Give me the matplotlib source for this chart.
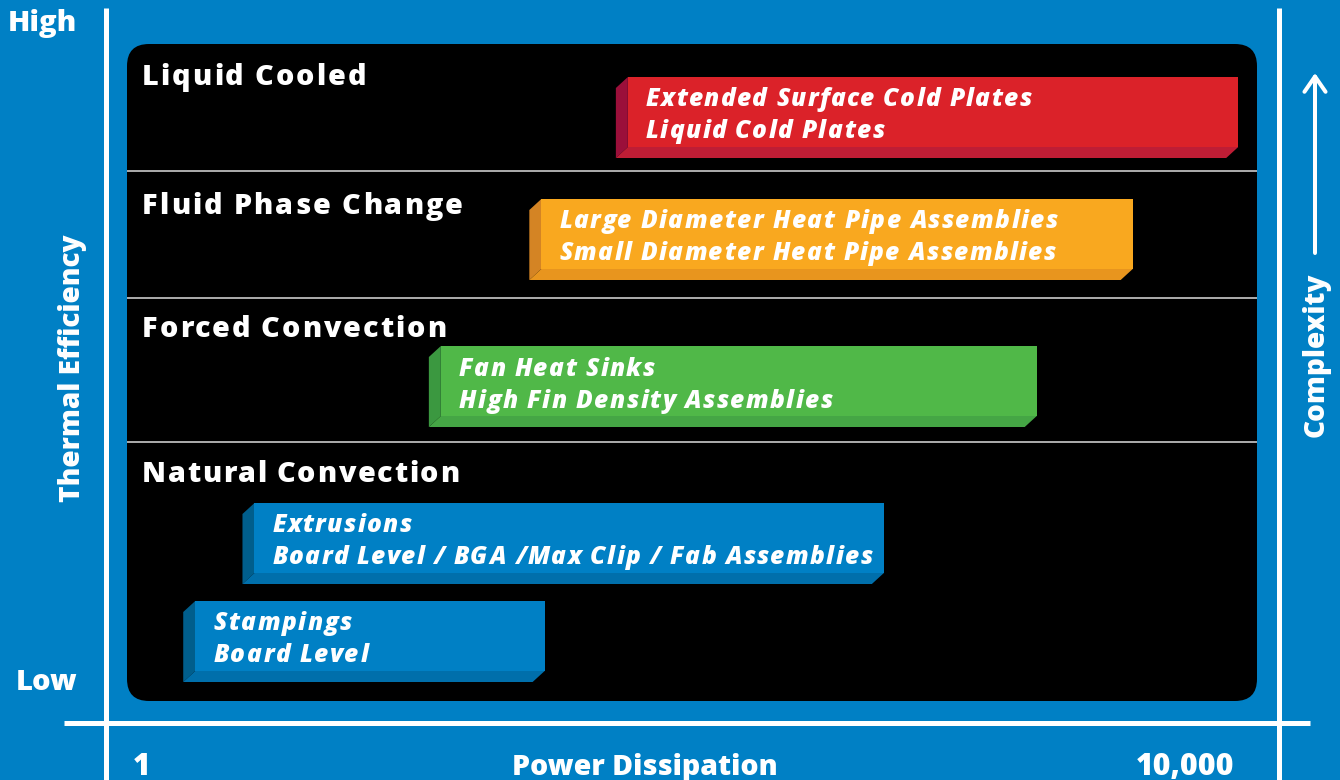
import matplotlib
matplotlib.use('Agg')
import matplotlib.pyplot as plt
from matplotlib.patches import Polygon, FancyBboxPatch, Rectangle, FancyArrowPatch
from matplotlib.lines import Line2D
from matplotlib.transforms import IdentityTransform
from matplotlib.font_manager import FontProperties

# ---------------- data ----------------
categories = ['Liquid Cooled', 'Fluid Phase Change', 'Forced Convection', 'Natural Convection']
tech_line1 = ['Extended Surface Cold Plates',
              'Large Diameter Heat Pipe Assemblies',
              'Fan Heat Sinks',
              'Extrusions',
              'Stampings']
tech_line2 = ['Liquid Cold Plates',
              'Small Diameter Heat Pipe Assemblies',
              'High Fin Density Assemblies',
              'Board Level / BGA /Max Clip / Fab Assemblies',
              'Board Level']
tech_category = ['Liquid Cooled', 'Fluid Phase Change', 'Forced Convection',
                 'Natural Convection', 'Natural Convection']
power_min_w = [73, 34, 14, 2.7, 1.6]
power_max_w = [16000, 6300, 2700, 700, 35]
x_tick_values = [1, 10000]
x_tick_labels = ['1', '10,000']
x_axis_title = 'Power Dissipation'
y_axis_title = 'Thermal Efficiency'
y_end_labels = ['Low', 'High']
right_axis_title = 'Complexity'

# ---------------- layout / style ----------------
W, H, DPI = 1340, 780, 100
FONT = 'Open Sans'
CAPR = 0.714
BG = '#0080C5'
PX_PER_DECADE = 260.75
X_ONE_PX = 142
BAR_TOP = [77, 199, 346, 503, 601]
BAR_H = 70
DEPTH_X, DEPTH_Y = 12, 11
CAT_BASELINE = [85, 214, 337, 482]
CAT_WIDTH = [224, 321, 304, 317]
DIVIDERS = [171, 298, 442]
LINE1_WIDTH = [386, 499, 196, 139, 139]
LINE2_WIDTH = [239, 497, 374, 600, 155]
CAT_COLORS = {
    'Liquid Cooled': ('#DB2229', '#9B0F3A', '#BE1D35'),
    'Fluid Phase Change': ('#F9A81F', '#D48424', '#E8951E'),
    'Forced Convection': ('#50B848', '#3B9840', '#45A645'),
    'Natural Convection': ('#0080C5', '#005E8C', '#006FAB'),
}

fig = plt.figure(figsize=(W / DPI, H / DPI), dpi=DPI, facecolor=BG)
ax = fig.add_axes([0, 0, 1, 1])
ax.set_xscale('log')
ax.set_xlim(10 ** (-X_ONE_PX / PX_PER_DECADE), 10 ** ((W - X_ONE_PX) / PX_PER_DECADE))
ax.set_ylim(H, 0)
ax.axis('off')
renderer = fig.canvas.get_renderer()
ID = IdentityTransform()


def fp(size_px, style='normal', weight=800):
    return FontProperties(family=FONT, weight=weight, style=style, size=size_px * 72 / DPI)


def tw(s, prop):
    w, h, d = renderer.get_text_width_height_descent(s, prop, ismath=False)
    return w


def fit_prop(s, target_w, cap_px, style='normal'):
    size = cap_px / CAPR
    w = tw(s, fp(size, style))
    if w > target_w:
        size *= target_w / w
    return fp(size, style)


def tracked_text(x_ink, y_base, s, prop, target_w, color='white', z=6):
    wXX = tw('XX', prop)
    advX = wXX - tw('X', prop)

    def adv(p):
        return tw('X' + p + 'X', prop) - wXX

    def lsb(c):
        return tw('X' + c, prop) - tw(c, prop) - advX

    nat = tw(s, prop)
    n = len(s)
    track = max((target_w - nat) / (n - 1), 0) if n > 1 else 0
    pen0 = x_ink - lsb(s[0])
    for i, c in enumerate(s):
        if c == ' ':
            continue
        xi = pen0 + adv(s[:i]) + lsb(c) + i * track
        fig.text(xi, H - y_base, c, fontproperties=prop, color=color,
                 ha='left', va='baseline', transform=ID, zorder=z)


def line_px(x0, y0, x1, y1, lw_px, color):
    fig.add_artist(Line2D([x0, x1], [H - y0, H - y1], lw=lw_px * 72 / DPI,
                          color=color, transform=ID, solid_capstyle='butt'))


# black panel
ax.add_patch(FancyBboxPatch((127, H - 701), 1130, 657,
                            boxstyle='round,pad=0,rounding_size=22',
                            fc='black', ec='none', transform=ID, zorder=1))

# dividers
for yd in DIVIDERS:
    line_px(127, yd, 1257, yd, 2, '#A8A8A8')

# axes lines
line_px(105.5, 8, 105.5, 780, 5, 'white')
line_px(1279, 8, 1279, 780, 5, 'white')
line_px(64, 722.5, 1310, 722.5, 5, 'white')

# bars
shift = 10 ** (-DEPTH_X / PX_PER_DECADE)
for i in range(len(tech_line1)):
    x0, x1 = power_min_w[i], power_max_w[i]
    t = BAR_TOP[i]
    b = t + BAR_H
    front, side, bottom = CAT_COLORS[tech_category[i]]
    ax.add_patch(Polygon([(x0, t), (x0 * shift, t + DEPTH_Y), (x0 * shift, b + DEPTH_Y), (x0, b)],
                         closed=True, fc=side, ec='none', zorder=3))
    ax.add_patch(Polygon([(x0, b), (x1, b), (x1 * shift, b + DEPTH_Y), (x0 * shift, b + DEPTH_Y)],
                         closed=True, fc=bottom, ec='none', zorder=3))
    ax.add_patch(Rectangle((x0, t), x1 - x0, BAR_H, fc=front, ec='none', zorder=4))
    left_px = ax.transData.transform((x0, t))[0]
    prop = fp(17.5 / CAPR, 'italic')
    tracked_text(left_px + 18, t + 29.5, tech_line1[i], prop, LINE1_WIDTH[i])
    tracked_text(left_px + 18, t + 61.5, tech_line2[i], prop, LINE2_WIDTH[i])

# category labels
for i, c in enumerate(categories):
    tracked_text(142, CAT_BASELINE[i], c, fp(20.5 / CAPR), CAT_WIDTH[i])

# x ticks
p_tick = fit_prop('10,000', 98, 23)
for v, lab in zip(x_tick_values, x_tick_labels):
    ax.text(v, 775, lab, fontproperties=p_tick, color='white', ha='center', va='baseline', zorder=6)

# titles
fig.text(645, H - 775, x_axis_title, fontproperties=fit_prop(x_axis_title, 266, 23),
         color='white', ha='center', va='baseline', transform=ID)
p_hl = fit_prop('High', 69, 21)
fig.text(77, H - 31, y_end_labels[1], fontproperties=p_hl, color='white',
         ha='right', va='baseline', transform=ID)
fig.text(77, H - 690, y_end_labels[0], fontproperties=p_hl, color='white',
         ha='right', va='baseline', transform=ID)
fig.text(80, H - 368.5, y_axis_title, fontproperties=fit_prop(y_axis_title, 267, 22),
         color='white', ha='center', va='baseline', rotation=90, rotation_mode='anchor', transform=ID)
fig.text(1324, H - 355, right_axis_title, fontproperties=fit_prop(right_axis_title, 164, 22),
         color='white', ha='center', va='baseline', rotation=90, rotation_mode='anchor', transform=ID)

# complexity arrow
fig.add_artist(FancyArrowPatch(posA=(1315, H - 253), posB=(1315, H - 73),
                               arrowstyle='->,head_length=0.55,head_width=0.38',
                               mutation_scale=20, lw=4 * 72 / DPI, color='white',
                               shrinkA=0, shrinkB=0, transform=ID))

fig.savefig('out.png', dpi=DPI, facecolor=fig.get_facecolor())
